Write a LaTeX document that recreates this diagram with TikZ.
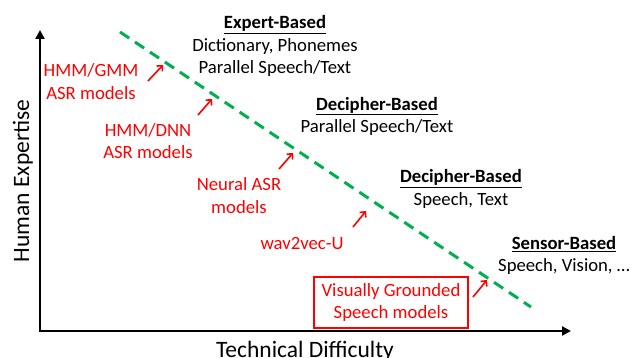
\documentclass[tikz,border=0pt]{standalone}
\usepackage{fontspec}
\setmainfont{Carlito}
\usetikzlibrary{arrows.meta}
\definecolor{lineGreen}{RGB}{0,176,80}

\begin{document}
\begin{tikzpicture}[x=1pt,y=-1pt,
  lab/.style={font=\fontsize{18.7}{22.5}\selectfont, align=center, inner sep=0pt},
  model/.style={lab, text=red},
  point/.style={red, line width=1.6pt, -{Straight Barb[length=4pt,width=8pt]}},
  axis/.style={line width=2.7pt, line join=miter, {Triangle[length=9pt,width=9pt]}-{Triangle[length=9pt,width=9pt]}}]
\useasboundingbox (0,0) rectangle (632,358);

\coordinate (ytop) at (40,30);
\coordinate (origin) at (40,331);
\coordinate (xend) at (571,331);
\draw[axis] (ytop) -- (origin) -- (xend); %%Axes

\node[font=\fontsize{23.5}{26}\selectfont, rotate=90, anchor=base] (yaxis) at (29,181) {Human Expertise};
\node[font=\fontsize{23.5}{26}\selectfont, anchor=base] (xaxis) at (305,357) {Technical Difficulty};

\coordinate (dstart) at (120,32);
\coordinate (dend) at (531,307);
\draw[lineGreen, line width=3pt, dash pattern=on 11pt off 7pt] (dstart) -- (dend); %%Trend

%%Approaches
\node[lab] (expert) at (275,46) {\underline{\textbf{Expert-Based}}\\Dictionary, Phonemes\\Parallel Speech/Text};
\node[lab] (decipherA) at (377,116.5) {\underline{\textbf{Decipher-Based}}\\Parallel Speech/Text};
\node[lab] (decipherB) at (461,189) {\underline{\textbf{Decipher-Based}}\\Speech, Text};
\node[lab] (sensor) at (564,255.5) {\underline{\textbf{Sensor-Based}}\\Speech, Vision, \dots};

%%Models
\node[model] (gmm) at (91,81.5) {HMM/GMM\\ASR models};
\node[model] (dnn) at (148,141) {HMM/DNN\\ASR models};
\node[model] (neural) at (239,195.5) {Neural ASR\\models};
\node[model] (wav) at (302,243.5) {wav2vec-U};
\node[model, draw=red, line width=1.5pt, minimum width=154pt, minimum height=51pt] (vgs) at (391,302.5) {Visually Grounded\\Speech models};

\coordinate (gmmTail) at (148,81);  \coordinate (gmmHead) at (163,65);
\coordinate (dnnTail) at (198,115); \coordinate (dnnHead) at (212,99);
\coordinate (neuTail) at (279,169); \coordinate (neuHead) at (293,153);
\coordinate (wavTail) at (353,227); \coordinate (wavHead) at (366,211);
\coordinate (vgsTail) at (473,297); \coordinate (vgsHead) at (487,280);
\draw[point] (gmmTail) -- (gmmHead);
\draw[point] (dnnTail) -- (dnnHead);
\draw[point] (neuTail) -- (neuHead);
\draw[point] (wavTail) -- (wavHead);
\draw[point] (vgsTail) -- (vgsHead);

\end{tikzpicture}
\end{document}
